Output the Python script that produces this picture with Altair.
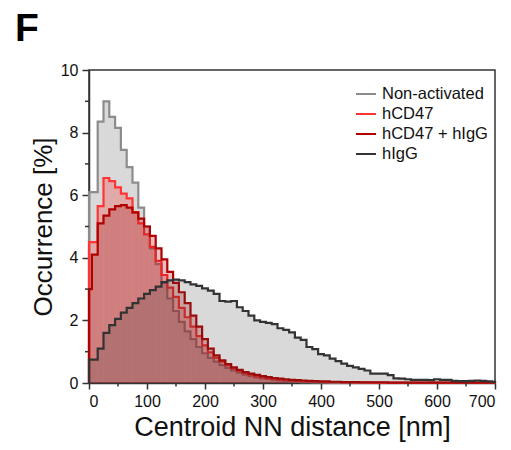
import altair as alt
import pandas as pd

series_names = ["Non-activated", "hCD47", "hCD47 + hIgG", "hIgG"]
# bin left edges [nm]: a partial first bin then 10 nm bins
bin_left = [0] + [5 + 10 * i for i in range(70)]
x_end = 700

nonact = [6.1,
          6.1, 8.35, 9.0, 8.5, 8.15, 7.45, 6.9, 6.4, 5.6, 5.0,
          4.3, 3.8, 3.2, 2.7, 2.3, 1.95, 1.65, 1.4, 1.15, 0.95,
          0.8, 0.68, 0.57, 0.48, 0.4, 0.33, 0.27, 0.22, 0.18, 0.15,
          0.13, 0.1, 0.08, 0.06, 0.05, 0.04, 0.03, 0.03, 0.02, 0.02,
          0.02, 0.01, 0.01, 0.01, 0.01, 0.01, 0.0, 0.0, 0.0, 0.0,
          0.0, 0.0, 0.0, 0.0, 0.0, 0.0, 0.0, 0.0, 0.0, 0.0,
          0.0, 0.0, 0.0, 0.0, 0.0, 0.0, 0.0, 0.0, 0.0, 0.0]

hcd47 = [4.5,
         4.5, 5.65, 6.55, 6.45, 6.25, 6.05, 5.9, 5.45, 5.1, 4.75,
         4.35, 3.9, 3.45, 3.05, 2.75, 2.4, 2.1, 1.8, 1.5, 1.2,
         0.98, 0.8, 0.68, 0.56, 0.46, 0.38, 0.31, 0.26, 0.2, 0.17,
         0.14, 0.12, 0.1, 0.09, 0.08, 0.07, 0.06, 0.05, 0.04, 0.04,
         0.03, 0.03, 0.03, 0.02, 0.02, 0.02, 0.02, 0.02, 0.01, 0.01,
         0.01, 0.01, 0.01, 0.01, 0.01, 0.01, 0.01, 0.01, 0.01, 0.01,
         0.01, 0.01, 0.01, 0.01, 0.01, 0.01, 0.01, 0.01, 0.01, 0.01]

combo = [3.0,
         4.1, 5.1, 5.35, 5.55, 5.65, 5.68, 5.6, 5.45, 5.25, 5.0,
         4.7, 4.3, 3.95, 3.55, 3.2, 2.9, 2.55, 2.15, 1.8, 1.4,
         1.1, 0.88, 0.72, 0.6, 0.5, 0.42, 0.35, 0.3, 0.26, 0.22,
         0.19, 0.16, 0.14, 0.12, 0.1, 0.09, 0.08, 0.07, 0.06, 0.05,
         0.05, 0.04, 0.04, 0.03, 0.03, 0.03, 0.02, 0.02, 0.02, 0.02,
         0.02, 0.01, 0.01, 0.01, 0.01, 0.01, 0.01, 0.01, 0.01, 0.01,
         0.01, 0.01, 0.01, 0.01, 0.01, 0.01, 0.01, 0.01, 0.01, 0.01]

higg = [0.75,
        0.75, 1.1, 1.6, 1.85, 2.05, 2.25, 2.4, 2.55, 2.7, 2.85,
        2.97, 3.08, 3.22, 3.28, 3.3, 3.28, 3.22, 3.15, 3.1, 3.02,
        2.95, 2.85, 2.62, 2.6, 2.62, 2.42, 2.3, 2.15, 2.0, 1.95,
        1.92, 1.88, 1.75, 1.7, 1.62, 1.45, 1.38, 1.15, 1.08, 0.92,
        0.88, 0.78, 0.7, 0.62, 0.55, 0.5, 0.45, 0.4, 0.3, 0.3,
        0.3, 0.25, 0.15, 0.14, 0.12, 0.1, 0.1, 0.1, 0.09, 0.12,
        0.1, 0.1, 0.07, 0.06, 0.06, 0.07, 0.08, 0.07, 0.05, 0.04]

series_values = [nonact, hcd47, combo, higg]

line_colors = ["#8c8c8c", "#ff3535", "#b00000", "#333333"]
fill_colors = ["#808080", "#ff1a1a", "#a00000", "#404040"]
fill_opacity = [0.3, 0.25, 0.25, 0.2]

x_ticks = [0, 100, 200, 300, 400, 500, 600, 700]
x_minor = [50, 150, 250, 350, 450, 550, 650]
y_ticks = [0, 2, 4, 6, 8, 10]
y_minor = [1, 3, 5, 7, 9]

W, H = 406, 313
FONT = "Liberation Sans"


def area_frame(name, vals):
    xs = bin_left + [x_end]
    ys = vals + [vals[-1]]
    return pd.DataFrame({"series": name, "x": xs, "y": ys, "i": range(len(xs))})


def line_frame(name, vals):
    xs = [bin_left[0]] + bin_left + [x_end]
    ys = [0.0] + vals + [0.0]
    return pd.DataFrame({"series": name, "x": xs, "y": ys, "i": range(len(xs))})


x_enc = alt.X("x:Q", scale=alt.Scale(domain=[0, 700], nice=False, zero=False),
              axis=alt.Axis(values=x_ticks, format="d", title="Centroid NN distance [nm]",
                            tickSize=6, labelPadding=4, titlePadding=5,
                            titleFontSize=27, labelFontSize=16))
y_enc = alt.Y("y:Q", scale=alt.Scale(domain=[0, 10], nice=False),
              axis=alt.Axis(values=y_ticks, format="d", title="Occurrence [%]",
                            tickSize=7, labelPadding=4, titlePadding=4,
                            titleFontSize=26, labelFontSize=16))

color_scale = alt.Scale(domain=series_names, range=line_colors)
legend = alt.Legend(title=None, orient="none", legendX=266, legendY=13,
                    symbolType="stroke", symbolSize=400, symbolStrokeWidth=2,
                    labelFontSize=16.5, labelFont=FONT, labelColor="#111",
                    labelOffset=5, rowPadding=-0.5, padding=0)

layers = []
for k, (name, vals) in enumerate(zip(series_names, series_values)):
    a = alt.Chart(area_frame(name, vals)).mark_area(
        interpolate="step-after", color=fill_colors[k], opacity=fill_opacity[k]
    ).encode(x=x_enc, y=y_enc, order="i:Q")
    l = alt.Chart(line_frame(name, vals)).mark_line(
        interpolate="step-after", strokeWidth=2.2
    ).encode(x=x_enc, y=y_enc, order="i:Q",
             color=alt.Color("series:N", scale=color_scale, legend=legend))
    layers += [a, l]

xminor = alt.Chart(pd.DataFrame({"x": x_minor})).mark_rule(
    color="#333", strokeWidth=1.5).encode(
    x=alt.X("x:Q"), y=alt.value(H), y2=alt.value(H + 3.5))
yminor = alt.Chart(pd.DataFrame({"y": y_minor})).mark_rule(
    color="#333", strokeWidth=1.5).encode(
    y=alt.Y("y:Q"), x=alt.value(0), x2=alt.value(-4))

panel = alt.Chart(pd.DataFrame({"t": ["F"]})).mark_text(
    font=FONT, fontSize=39, fontWeight="bold", color="#000",
    align="left", baseline="alphabetic").encode(
    text="t:N", x=alt.value(-74), y=alt.value(-29))

chart = alt.layer(*layers, xminor, yminor, panel).properties(
    width=W, height=H,
    autosize=alt.AutoSizeParams(type="none"),
    padding={"left": 89, "top": 70, "right": 16, "bottom": 67},
).configure_view(
    stroke="#333", strokeWidth=1.5
).configure_axis(
    grid=False, labelFont=FONT, titleFont=FONT, labelColor="#111", titleColor="#111",
    domainColor="#333", domainWidth=1.5, tickColor="#333", tickWidth=1.5,
    titleFontWeight="normal"
)

chart.save("out.html", embed_options={"renderer": "svg", "actions": False})
